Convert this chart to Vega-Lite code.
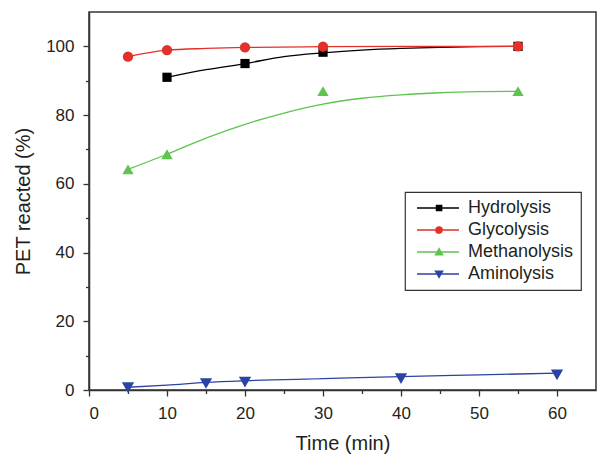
{
  "$schema": "https://vega.github.io/schema/vega-lite/v6.json",
  "width": 507,
  "height": 378,
  "autosize": "none",
  "padding": {"left": 89, "top": 12, "right": 2, "bottom": 64},
  "config": {
    "font": "Liberation Sans",
    "view": {"stroke": "#333333", "strokeWidth": 1.5},
    "legend": {"strokeWidth": 1.2},
    "axis": {
      "grid": false,
      "domainColor": "#333333",
      "domainWidth": 1.5,
      "tickColor": "#333333",
      "tickWidth": 1.3,
      "labelFontSize": 17,
      "labelColor": "#231f20",
      "titleFontSize": 20,
      "titleFontWeight": "normal",
      "titleColor": "#231f20",
      "labelFont": "Liberation Sans",
      "titleFont": "Liberation Sans"
    }
  },
  "datasets": {
    "points": [
      {"series": "Hydrolysis", "t": 10, "v": 91},
      {"series": "Hydrolysis", "t": 20, "v": 95},
      {"series": "Hydrolysis", "t": 30, "v": 98.3},
      {"series": "Hydrolysis", "t": 55, "v": 100},
      {"series": "Glycolysis", "t": 5, "v": 97},
      {"series": "Glycolysis", "t": 10, "v": 98.9},
      {"series": "Glycolysis", "t": 20, "v": 99.7},
      {"series": "Glycolysis", "t": 30, "v": 99.9},
      {"series": "Glycolysis", "t": 55, "v": 100},
      {"series": "Methanolysis", "t": 5, "v": 64.2},
      {"series": "Methanolysis", "t": 10, "v": 68.6},
      {"series": "Methanolysis", "t": 30, "v": 87},
      {"series": "Methanolysis", "t": 55, "v": 87},
      {"series": "Aminolysis", "t": 5, "v": 0.7},
      {"series": "Aminolysis", "t": 15, "v": 1.9},
      {"series": "Aminolysis", "t": 20, "v": 2.3},
      {"series": "Aminolysis", "t": 40, "v": 3.3},
      {"series": "Aminolysis", "t": 60, "v": 4.4}
    ],
    "fit": [
      {"series": "Hydrolysis", "t": 10, "v": 91},
      {"series": "Hydrolysis", "t": 15, "v": 93.2},
      {"series": "Hydrolysis", "t": 20, "v": 95},
      {"series": "Hydrolysis", "t": 25, "v": 97.0},
      {"series": "Hydrolysis", "t": 30, "v": 98.1},
      {"series": "Hydrolysis", "t": 35, "v": 98.9},
      {"series": "Hydrolysis", "t": 40, "v": 99.4},
      {"series": "Hydrolysis", "t": 45, "v": 99.7},
      {"series": "Hydrolysis", "t": 50, "v": 99.9},
      {"series": "Hydrolysis", "t": 55, "v": 100},
      {"series": "Glycolysis", "t": 5, "v": 97},
      {"series": "Glycolysis", "t": 10, "v": 98.9},
      {"series": "Glycolysis", "t": 15, "v": 99.4},
      {"series": "Glycolysis", "t": 20, "v": 99.7},
      {"series": "Glycolysis", "t": 30, "v": 99.9},
      {"series": "Glycolysis", "t": 40, "v": 100},
      {"series": "Glycolysis", "t": 55, "v": 100},
      {"series": "Methanolysis", "t": 5, "v": 64.2},
      {"series": "Methanolysis", "t": 10, "v": 68.6},
      {"series": "Methanolysis", "t": 15, "v": 73.3},
      {"series": "Methanolysis", "t": 20, "v": 77.3},
      {"series": "Methanolysis", "t": 25, "v": 80.6},
      {"series": "Methanolysis", "t": 30, "v": 83.2},
      {"series": "Methanolysis", "t": 35, "v": 84.9},
      {"series": "Methanolysis", "t": 40, "v": 85.9},
      {"series": "Methanolysis", "t": 45, "v": 86.5},
      {"series": "Methanolysis", "t": 50, "v": 86.8},
      {"series": "Methanolysis", "t": 55, "v": 86.9},
      {"series": "Aminolysis", "t": 5, "v": 0.8},
      {"series": "Aminolysis", "t": 10, "v": 1.4},
      {"series": "Aminolysis", "t": 15, "v": 2.2},
      {"series": "Aminolysis", "t": 20, "v": 2.7},
      {"series": "Aminolysis", "t": 30, "v": 3.3},
      {"series": "Aminolysis", "t": 40, "v": 3.9},
      {"series": "Aminolysis", "t": 50, "v": 4.4},
      {"series": "Aminolysis", "t": 60, "v": 4.9}
    ]
  },
  "encoding": {
    "x": {
      "field": "t",
      "type": "quantitative",
      "scale": {"domain": [0, 65], "nice": false, "zero": false},
      "axis": {
        "title": "Time (min)",
        "values": [0, 5, 10, 15, 20, 25, 30, 35, 40, 45, 50, 55, 60],
        "labelExpr": "datum.value % 10 === 0 ? datum.label : ''",
        "tickSize": {"condition": {"test": "datum.value % 10 === 0", "value": 6}, "value": 3.5},
        "labelPadding": 9,
        "titlePadding": 12
      }
    },
    "y": {
      "field": "v",
      "type": "quantitative",
      "scale": {"domain": [0, 110], "nice": false},
      "axis": {
        "title": "PET reacted (%)",
        "values": [0, 10, 20, 30, 40, 50, 60, 70, 80, 90, 100],
        "labelExpr": "datum.value % 20 === 0 ? datum.label : ''",
        "tickSize": {"condition": {"test": "datum.value % 20 === 0", "value": 6}, "value": 3.5},
        "labelPadding": 9,
        "titlePadding": 12
      }
    }
  },
  "layer": [
    {
      "data": {"name": "fit"},
      "mark": {"type": "line", "interpolate": "monotone", "strokeWidth": 1.3},
      "encoding": {
        "color": {
          "field": "series",
          "type": "nominal",
          "scale": {"domain": ["Hydrolysis", "Glycolysis", "Methanolysis", "Aminolysis"], "range": ["#000000", "#e2312a", "#5ec44f", "#2b44a3"]},
          "legend": null
        }
      }
    },
    {
      "data": {"name": "points"},
      "mark": {"type": "point", "filled": true, "opacity": 1},
      "encoding": {
        "color": {
          "field": "series",
          "type": "nominal",
          "scale": {"domain": ["Hydrolysis", "Glycolysis", "Methanolysis", "Aminolysis"], "range": ["#000000", "#e2312a", "#5ec44f", "#2b44a3"]},
          "legend": null
        },
        "shape": {
          "field": "series",
          "type": "nominal",
          "scale": {"domain": ["Hydrolysis", "Glycolysis", "Methanolysis", "Aminolysis"], "range": ["square", "circle", "triangle-up", "triangle-down"]},
          "legend": null
        },
        "size": {
          "field": "series",
          "type": "nominal",
          "scale": {"domain": ["Hydrolysis", "Glycolysis", "Methanolysis", "Aminolysis"], "range": [85, 150, 220, 210]},
          "legend": null
        }
      }
    },
    {
      "data": {"name": "points"},
      "mark": {"type": "point", "filled": true, "opacity": 0, "size": 196},
      "encoding": {
        "fill": {
          "field": "series",
          "type": "nominal",
          "scale": {"domain": ["Hydrolysis", "Glycolysis", "Methanolysis", "Aminolysis"], "range": ["#000000", "#e2312a", "#5ec44f", "#2b44a3"]},
          "legend": {"title": null, "orient": "none", "legendX": 316, "legendY": 180, "padding": 7, "rowPadding": 4, "labelFontSize": 18, "labelColor": "#231f20", "labelOffset": 38, "labelLimit": 300, "symbolSize": 196, "symbolStrokeWidth": 1.3, "symbolOpacity": 1, "strokeColor": "#333333"}
        },
        "stroke": {
          "field": "series",
          "type": "nominal",
          "scale": {"domain": ["Hydrolysis", "Glycolysis", "Methanolysis", "Aminolysis"], "range": ["#000000", "#e2312a", "#5ec44f", "#2b44a3"]},
          "legend": {"title": null, "orient": "none", "legendX": 316, "legendY": 180, "padding": 7, "rowPadding": 4, "labelFontSize": 18, "labelColor": "#231f20", "labelOffset": 38, "labelLimit": 300, "symbolSize": 196, "symbolStrokeWidth": 1.3, "symbolOpacity": 1, "strokeColor": "#333333"}
        },
        "shape": {
          "field": "series",
          "type": "nominal",
          "scale": {
            "domain": ["Hydrolysis", "Glycolysis", "Methanolysis", "Aminolysis"],
            "range": [
              "M-0.57,0H5.43M2.2,-0.38H2.96V0.38H2.2Z",
              "M-0.57,0H5.43M2.12,0A0.46,0.46,0,1,1,3.04,0A0.46,0.46,0,1,1,2.12,0Z",
              "M-0.57,0H5.43M2.58,-0.48L3.1,0.42H2.06Z",
              "M-0.57,0H5.43M2.58,0.48L3.1,-0.42H2.06Z"
            ]
          },
          "legend": {"title": null, "orient": "none", "legendX": 316, "legendY": 180, "padding": 7, "rowPadding": 4, "labelFontSize": 18, "labelColor": "#231f20", "labelOffset": 38, "labelLimit": 300, "symbolSize": 196, "symbolStrokeWidth": 1.3, "symbolOpacity": 1, "strokeColor": "#333333"}
        }
      }
    }
  ],
  "resolve": {"scale": {"shape": "independent", "fill": "independent", "stroke": "independent"}}
}
